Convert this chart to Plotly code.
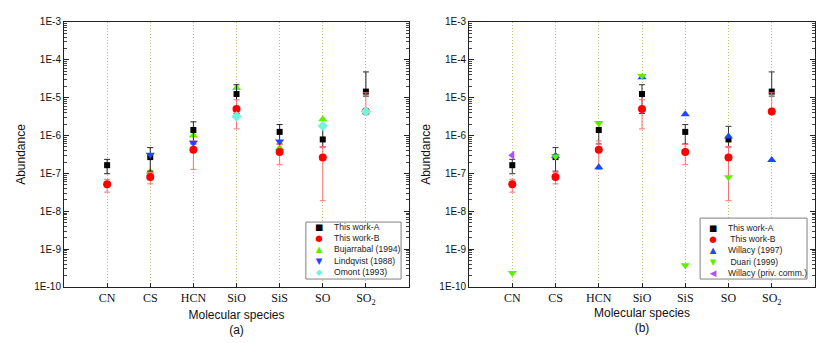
import plotly.graph_objects as go
from plotly.subplots import make_subplots

species = ['CN', 'CS', 'HCN', 'SiO', 'SiS', 'SO', 'SO2']
species_labels = ['CN', 'CS', 'HCN', 'SiO', 'SiS', 'SO', 'SO<sub>2</sub>']

# this work: value, upper and lower limit of the error bar
work_a = [1.65e-7, 2.7e-7, 1.4e-6, 1.25e-5, 1.25e-6, 7.9e-7, 1.45e-5]
work_a_up = [2.35e-7, 4.8e-7, 2.3e-6, 2.2e-5, 1.95e-6, 1.75e-6, 4.8e-5]
work_a_low = [9.8e-8, 1.15e-7, 6.0e-7, 3.8e-6, 6.0e-7, 5.0e-7, 1.1e-5]

work_b = [5.2e-8, 8.1e-8, 4.2e-7, 5.0e-6, 3.7e-7, 2.65e-7, 4.3e-6]
work_b_up = [7.0e-8, 1.05e-7, 7.2e-7, 8.8e-6, 5.8e-7, 5.1e-7, 1.35e-5]
work_b_low = [3.2e-8, 5.3e-8, 1.28e-7, 1.5e-6, 1.7e-7, 1.9e-8, 4.3e-6]

# panel (a): observations from the literature
bujarrabal_1994 = [None, 1.1e-7, 1.0e-6, 1.8e-5, 4.7e-7, 2.7e-6, None]
lindqvist_1988 = [None, 3.1e-7, 6.5e-7, None, 7.0e-7, None, None]
omont_1993 = [None, None, None, 3.2e-6, None, 1.8e-6, 4.3e-6]

# panel (b): chemical models
willacy_1997 = [None, 2.95e-7, 1.45e-7, 3.45e-5, 3.65e-6, 9.4e-7, 2.25e-7]
duari_1999 = [2.35e-10, 2.8e-7, 2.1e-6, 3.75e-5, 3.75e-10, 7.9e-8, None]
willacy_priv = [3.0e-7, None, None, None, None, None, None]

BLACK = '#000000'
RED = '#ff0000'
GREEN = '#5ef000'
BLUE = '#1f45ff'
CYAN = '#72f5dc'
PURPLE = '#b44dff'

GLYPH = {'square': '\u25a0', 'circle': '\u25cf', 'triangle-up': '\u25b2',
         'triangle-down': '\u25bc', 'diamond': '\u25c6', 'triangle-left': '\u25c0'}


def err(vals, up, low, color):
    return dict(type='data', symmetric=False,
                array=[u - v for u, v in zip(up, vals)],
                arrayminus=[v - l for v, l in zip(vals, low)],
                color=color, thickness=1, width=3)


def points(vals, name, symbol, color, size, error=None):
    return go.Scatter(x=species, y=vals, mode='markers', name=name,
                      marker=dict(symbol=symbol, color=color, size=size, line=dict(width=0)),
                      error_y=error, showlegend=False)


panel_a = [
    (bujarrabal_1994, 'Bujarrabal (1994)', 'triangle-up', GREEN, 8, None),
    (work_a, 'This work-A', 'square', BLACK, 6, err(work_a, work_a_up, work_a_low, '#222222')),
    (work_b, 'This work-B', 'circle', RED, 8, err(work_b, work_b_up, work_b_low, '#ff7070')),
    (lindqvist_1988, 'Lindqvist (1988)', 'triangle-down', BLUE, 8, None),
    (omont_1993, 'Omont (1993)', 'diamond', CYAN, 8, None),
]
legend_a = ['This work-A', 'This work-B', 'Bujarrabal (1994)', 'Lindqvist (1988)', 'Omont (1993)']

panel_b = [
    (work_a, 'This work-A', 'square', BLACK, 6, err(work_a, work_a_up, work_a_low, '#333333')),
    (work_b, ' This work-B', 'circle', RED, 8, err(work_b, work_b_up, work_b_low, '#ff7070')),
    (willacy_1997, 'Willacy (1997)', 'triangle-up', BLUE, 8, None),
    (duari_1999, ' Duari (1999)', 'triangle-down', GREEN, 8, None),
    (willacy_priv, 'Willacy (priv. comm.)', 'triangle-left', PURPLE, 8, None),
]
legend_b = ['This work-A', ' This work-B', 'Willacy (1997)', ' Duari (1999)', 'Willacy (priv. comm.)']

fig = make_subplots(rows=1, cols=2)
for col, panel in [(1, panel_a), (2, panel_b)]:
    for vals, name, symbol, color, size, error in panel:
        fig.add_trace(points(vals, name, symbol, color, size, error), row=1, col=col)


def add_legend(panel, order, xref, yref, box, sym_x, txt_x, mid_y):
    # hand made legend: the plotly legend cannot pack rows this tightly
    fig.add_shape(type='rect', xref=xref, yref=yref, x0=box[0], x1=box[1], y0=box[2], y1=box[3],
                  line=dict(color='#808080', width=1), fillcolor='white', layer='above')
    lookup = {p[1]: p for p in panel}
    glyphs = []
    for name in order:
        symbol, color = lookup[name][2], lookup[name][3]
        glyphs.append('<span style="color:%s">%s</span>' % (color, GLYPH[symbol]))
    fig.add_annotation(x=sym_x, y=mid_y, xref=xref, yref=yref, text='<br>'.join(glyphs),
                       showarrow=False, align='center', xanchor='center', yanchor='middle',
                       font=dict(family='DejaVu Sans', size=8.6, color='#000000'))
    fig.add_annotation(x=txt_x, y=mid_y, xref=xref, yref=yref, text='<br>'.join(order),
                       showarrow=False, align='left', xanchor='left', yanchor='middle',
                       font=dict(family='Liberation Sans', size=8.6, color='#222222'))


add_legend(panel_a, legend_a, 'x domain', 'y domain', (0.701, 0.977, 0.030, 0.245), 0.739, 0.777, 0.140)
add_legend(panel_b, legend_b, 'x2 domain', 'y2 domain', (0.668, 0.977, 0.030, 0.260), 0.705, 0.743, 0.139)

xaxis_style = dict(
    type='category', categoryorder='array', categoryarray=species,
    range=[-1, 7], tickmode='array', tickvals=species, ticktext=species_labels,
    tickfont=dict(family='Liberation Serif', size=12, color='#111111'),
    ticks='inside', ticklen=4, tickcolor='#222222',
    showgrid=True, gridcolor='#bebe6e', griddash='1px,2px', gridwidth=1,
    showline=True, linecolor='#222222', linewidth=1, mirror=True,
    zeroline=False, automargin=False,
)
yaxis_style = dict(
    type='log', range=[-10, -3],
    tickmode='array', tickvals=[10.0 ** -k for k in range(3, 11)],
    ticktext=['1E-%d' % k for k in range(3, 11)],
    tickfont=dict(family='Liberation Sans', size=10, color='#111111'),
    ticks='inside', ticklen=5, tickcolor='#222222',
    minor=dict(ticks='inside', ticklen=3, dtick='D1', tickcolor='#444444', showgrid=False),
    showgrid=False, showline=True, linecolor='#222222', linewidth=1, mirror='allticks',
    zeroline=False, automargin=False,
    title=dict(text='Abundance', font=dict(family='Liberation Sans', size=12, color='#111111'),
               standoff=6),
)

fig.update_xaxes(**xaxis_style)
fig.update_yaxes(**yaxis_style)
fig.update_xaxes(domain=[0.0771, 0.4928], row=1, col=1,
                 title=dict(text='Molecular species<br>(a)', standoff=4,
                            font=dict(family='Liberation Sans', size=12, color='#111111')))
fig.update_xaxes(domain=[0.5651, 0.9819], row=1, col=2,
                 title=dict(text='Molecular species<br>(b)', standoff=2,
                            font=dict(family='Liberation Sans', size=12, color='#111111')))
fig.update_yaxes(domain=[0.1633, 0.9359])

fig.update_layout(
    template='none',
    width=830, height=343,
    margin=dict(l=0, r=0, t=0, b=0),
    paper_bgcolor='white', plot_bgcolor='white',
    font=dict(family='Liberation Sans', size=10, color='#111111'),
    showlegend=False,
)

# drop the browser's default body margin so the figure fills the window
fig.write_html('out.html', config={'displayModeBar': False},
               post_script="document.body.style.margin='0';document.body.style.overflow='hidden';")
